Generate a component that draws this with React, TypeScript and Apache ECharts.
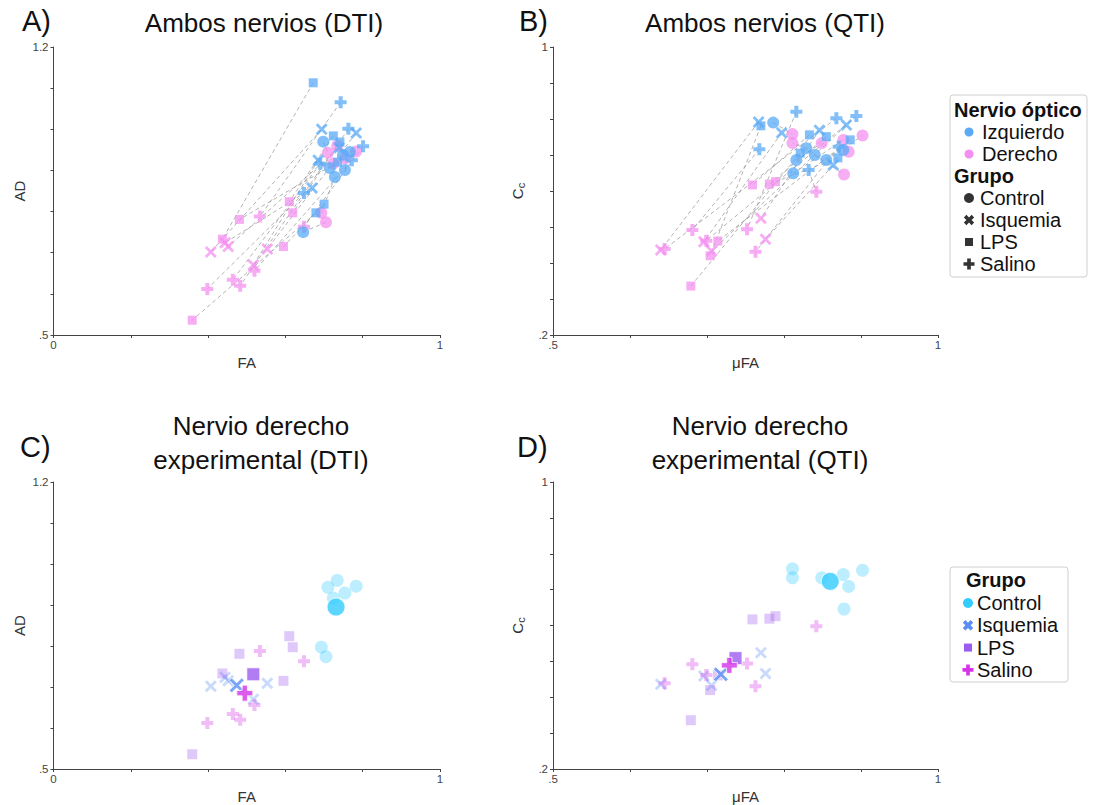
import React, { useEffect, useRef } from "react";
import * as echarts from "echarts";

const FONT = '"Liberation Sans", Arial, Helvetica, sans-serif';

const groups = ["Control", "Isquemia", "LPS", "Salino"];

// DTI (FA, AD) — left optic nerve (Izquierdo)
const dtiL_Control = [[0.698, 0.970], [0.749, 0.938], [0.728, 0.884], [0.646, 0.750], [0.767, 0.945], [0.715, 0.906], [0.754, 0.901]];
const dtiL_Isquemia = [[0.694, 1.000], [0.783, 0.991], [0.739, 0.955], [0.685, 0.925], [0.669, 0.857]];
const dtiL_LPS = [[0.672, 1.113], [0.724, 0.984], [0.735, 0.920], [0.700, 0.818], [0.679, 0.797], [0.741, 0.969]];
const dtiL_Salino = [[0.743, 1.066], [0.763, 1.001], [0.801, 0.959], [0.690, 0.916], [0.772, 0.925], [0.648, 0.845]];
// DTI — right optic nerve (Derecho)
const dtiR_Control = [[0.710, 0.943], [0.734, 0.960], [0.693, 0.797], [0.705, 0.774], [0.783, 0.946], [0.724, 0.917], [0.754, 0.929]];
const dtiR_Isquemia = [[0.407, 0.702], [0.553, 0.709], [0.452, 0.715], [0.517, 0.670], [0.444, 0.724]];
const dtiR_LPS = [[0.437, 0.733], [0.610, 0.824], [0.481, 0.781], [0.595, 0.715], [0.359, 0.536], [0.619, 0.797]];
const dtiR_Salino = [[0.534, 0.788], [0.483, 0.620], [0.648, 0.763], [0.464, 0.634], [0.520, 0.656], [0.398, 0.612]];
// DTI — right nerve group means
const dtiMean_Control = [0.731, 0.895];
const dtiMean_Isquemia = [0.474, 0.704];
const dtiMean_LPS = [0.517, 0.731];
const dtiMean_Salino = [0.495, 0.685];

// QTI (μFA, Cc) — left optic nerve
const qtiL_Control = [[0.786, 0.790], [0.829, 0.719], [0.816, 0.686], [0.812, 0.649], [0.855, 0.686], [0.877, 0.714], [0.840, 0.700]];
const qtiL_Isquemia = [[0.767, 0.792], [0.797, 0.762], [0.846, 0.769], [0.881, 0.783], [0.864, 0.672]];
const qtiL_LPS = [[0.770, 0.781], [0.833, 0.756], [0.855, 0.751], [0.821, 0.705], [0.870, 0.692], [0.886, 0.742]];
const qtiL_Salino = [[0.816, 0.820], [0.768, 0.716], [0.868, 0.802], [0.894, 0.808], [0.832, 0.658], [0.871, 0.723]];
// QTI — right optic nerve
const qtiR_Control = [[0.811, 0.758], [0.811, 0.733], [0.849, 0.733], [0.877, 0.742], [0.902, 0.754], [0.884, 0.709], [0.878, 0.646]];
const qtiR_Isquemia = [[0.640, 0.436], [0.696, 0.459], [0.770, 0.524], [0.706, 0.433], [0.776, 0.466]];
const qtiR_LPS = [[0.704, 0.420], [0.759, 0.617], [0.781, 0.619], [0.679, 0.336], [0.789, 0.626], [0.714, 0.461]];
const qtiR_Salino = [[0.752, 0.494], [0.681, 0.492], [0.645, 0.439], [0.699, 0.462], [0.842, 0.598], [0.763, 0.431]];
// QTI — right nerve group means
const qtiMean_Control = [0.860, 0.723];
const qtiMean_Isquemia = [0.718, 0.464];
const qtiMean_LPS = [0.737, 0.509];
const qtiMean_Salino = [0.729, 0.489];

const dtiL = [dtiL_Control, dtiL_Isquemia, dtiL_LPS, dtiL_Salino];
const dtiR = [dtiR_Control, dtiR_Isquemia, dtiR_LPS, dtiR_Salino];
const dtiMean = [dtiMean_Control, dtiMean_Isquemia, dtiMean_LPS, dtiMean_Salino];
const qtiL = [qtiL_Control, qtiL_Isquemia, qtiL_LPS, qtiL_Salino];
const qtiR = [qtiR_Control, qtiR_Isquemia, qtiR_LPS, qtiR_Salino];
const qtiMean = [qtiMean_Control, qtiMean_Isquemia, qtiMean_LPS, qtiMean_Salino];

const BLUE = "#5aaaf5";
const PINK = "#f48ef0";
const GROUP_COLORS = ["#33ccff", "#5b8ef5", "#9d5cf0", "#d633e8"];

const PLUS = "path://M-1,-3L1,-3L1,-1L3,-1L3,1L1,1L1,3L-1,3L-1,1L-3,1L-3,-1L-1,-1Z";
const CROSS = "path://M-3,-2L-2,-3L0,-1L2,-3L3,-2L1,0L3,2L2,3L0,1L-2,3L-3,2L-1,0Z";
const SYMBOLS = ["circle", CROSS, "rect", PLUS];
const SIZE_A = [12, 12, 9, 12];
const SIZE_PALE = [13, 12, 10, 12];
const SIZE_MEAN = [18, 15, 13, 16];

function fmt(v: number) {
  const s = String(+v.toFixed(2));
  return s.startsWith("0.") ? s.slice(1) : s;
}

function makeAxis(kind: "x" | "y", gridIndex: number, min: number, max: number, interval: number, name: string, rich?: any) {
  const ax: any = {
    type: "value",
    gridIndex,
    min,
    max,
    interval,
    name,
    nameLocation: "middle",
    nameGap: kind === "x" ? 20 : 27,
    nameTextStyle: { fontSize: 15, color: "#333", fontFamily: FONT, rich },
    axisLine: { show: true, onZero: false, lineStyle: { color: "#444", width: 1 } },
    axisTick: { show: true, length: 3, lineStyle: { color: "#444" } },
    splitLine: { show: false },
    axisLabel: {
      fontSize: 11.5,
      color: "#444",
      fontFamily: FONT,
      margin: kind === "x" ? 4 : 5,
      showMinLabel: true,
      showMaxLabel: true,
      formatter: (v: number) =>
        Math.abs(v - min) < 1e-6 || Math.abs(v - max) < 1e-6 ? fmt(v) : "",
    },
  };
  return ax;
}

function plusPts(cx: number, cy: number, s: number, rot: number) {
  const a = s / 2, b = s / 6;
  const base = [[-b, -a], [b, -a], [b, -b], [a, -b], [a, b], [b, b], [b, a], [-b, a], [-b, b], [-a, b], [-a, -b], [-b, -b]];
  const c = Math.cos(rot), sn = Math.sin(rot);
  return base.map(([x, y]) => [cx + x * c - y * sn, cy + x * sn + y * c]);
}

function legendMarker(g: number, cx: number, cy: number, color: string) {
  if (g === 0) return { type: "circle", shape: { cx, cy, r: 5 }, style: { fill: color } };
  if (g === 1) return { type: "polygon", shape: { points: plusPts(cx, cy, 11, Math.PI / 4) }, style: { fill: color } };
  if (g === 2) return { type: "rect", shape: { x: cx - 4, y: cy - 4, width: 8, height: 8 }, style: { fill: color } };
  return { type: "polygon", shape: { points: plusPts(cx, cy, 11, 0) }, style: { fill: color } };
}

function txt(x: number, y: number, text: string, size: number, opts: any = {}) {
  return {
    type: "text",
    x,
    y,
    style: {
      text,
      fontSize: size,
      fontFamily: FONT,
      fontWeight: opts.bold ? "bold" : "normal",
      fill: opts.fill || "#111",
      align: opts.align || "left",
      verticalAlign: "middle",
      lineHeight: opts.lineHeight,
    },
  };
}

export default function App() {
  const ref = useRef<HTMLDivElement>(null);
  useEffect(() => {
    document.body.style.margin = "0";
    const chart = echarts.init(ref.current!, null, { renderer: "svg" });

    const series: any[] = [];
    // Panels A & B: paired points with dashed connectors
    const paired = (L: number[][][], R: number[][][], idx: number) => {
      for (let g = 0; g < 4; g++) {
        series.push({
          type: "scatter", xAxisIndex: idx, yAxisIndex: idx, silent: true,
          symbol: SYMBOLS[g], symbolSize: SIZE_A[g], data: R[g],
          itemStyle: { color: PINK, opacity: 0.72 },
        });
      }
      for (let g = 0; g < 4; g++) {
        series.push({
          type: "scatter", xAxisIndex: idx, yAxisIndex: idx, silent: true,
          symbol: SYMBOLS[g], symbolSize: SIZE_A[g], data: L[g],
          itemStyle: { color: BLUE, opacity: 0.75 },
        });
      }
      const lines: any[] = [];
      for (let g = 0; g < 4; g++) {
        L[g].forEach((p, i) => lines.push({ coords: [p, R[g][i]] }));
      }
      series.push({
        type: "lines", coordinateSystem: "cartesian2d", xAxisIndex: idx, yAxisIndex: idx,
        silent: true, data: lines,
        lineStyle: { color: "#888", width: 0.8, type: [4, 3], opacity: 0.8 },
      });
    };
    paired(dtiL, dtiR, 0);
    paired(qtiL, qtiR, 1);

    // Panels C & D: right nerve by group, with group means
    const grouped = (R: number[][][], M: number[][], idx: number) => {
      for (let g = 0; g < 4; g++) {
        series.push({
          type: "scatter", xAxisIndex: idx, yAxisIndex: idx, silent: true,
          symbol: SYMBOLS[g], symbolSize: SIZE_PALE[g], data: R[g],
          itemStyle: { color: GROUP_COLORS[g], opacity: 0.33 },
        });
      }
      for (let g = 0; g < 4; g++) {
        series.push({
          type: "scatter", xAxisIndex: idx, yAxisIndex: idx, silent: true, z: 3,
          symbol: SYMBOLS[g], symbolSize: SIZE_MEAN[g], data: [M[g]],
          itemStyle: { color: GROUP_COLORS[g], borderColor: "#fff", borderWidth: 1 },
        });
      }
    };
    grouped(dtiR, dtiMean, 2);
    grouped(qtiR, qtiMean, 3);

    const ccRich = {
      m: { fontSize: 15, color: "#333", fontFamily: FONT },
      s: { fontSize: 11, color: "#333", fontFamily: FONT, padding: [6, 0, 0, 0] },
    };

    const LF = 20;
    const graphic: any[] = [
      txt(22, 21, "A)", 29),
      txt(519, 21, "B)", 29),
      txt(20, 447, "C)", 29),
      txt(517, 447, "D)", 29),
      txt(264, 23, "Ambos nervios (DTI)", 26, { align: "center" }),
      txt(765, 23, "Ambos nervios (QTI)", 26, { align: "center" }),
      txt(261, 443, "Nervio derecho\nexperimental (DTI)", 26, { align: "center", lineHeight: 34 }),
      txt(760, 443, "Nervio derecho\nexperimental (QTI)", 26, { align: "center", lineHeight: 34 }),
      // Legend 1
      { type: "rect", shape: { x: 950, y: 95, width: 137, height: 182, r: 3 }, style: { fill: "#fff", stroke: "#cfcfcf", lineWidth: 1 } },
      txt(954, 110, "Nervio óptico", LF, { bold: true }),
      { type: "circle", shape: { cx: 969, cy: 132, r: 4.5 }, style: { fill: BLUE } },
      txt(982, 132, "Izquierdo", LF),
      { type: "circle", shape: { cx: 969, cy: 154, r: 4.5 }, style: { fill: PINK } },
      txt(982, 154, "Derecho", LF),
      txt(954, 176, "Grupo", LF, { bold: true }),
      // Legend 2
      { type: "rect", shape: { x: 950, y: 567, width: 118, height: 115, r: 3 }, style: { fill: "#fff", stroke: "#cfcfcf", lineWidth: 1 } },
      txt(966, 580, "Grupo", LF, { bold: true }),
    ];
    groups.forEach((name, g) => {
      const y1 = 198 + g * 22;
      graphic.push(legendMarker(g, 969, y1, "#333"));
      graphic.push(txt(980, y1, name, LF));
      const y2 = 603 + g * 22.3;
      graphic.push(legendMarker(g, 968, y2, GROUP_COLORS[g]));
      graphic.push(txt(977, y2, name, LF));
    });

    chart.setOption({
      animation: false,
      textStyle: { fontFamily: FONT },
      grid: [
        { left: 53.5, top: 47, width: 386.5, height: 288 },
        { left: 553, top: 47, width: 385, height: 288 },
        { left: 53.5, top: 482, width: 386.5, height: 288 },
        { left: 553, top: 482, width: 385, height: 288 },
      ],
      xAxis: [
        makeAxis("x", 0, 0, 1, 0.2, "FA"),
        makeAxis("x", 1, 0.5, 1, 0.1, "μFA"),
        makeAxis("x", 2, 0, 1, 0.2, "FA"),
        makeAxis("x", 3, 0.5, 1, 0.1, "μFA"),
      ],
      yAxis: [
        makeAxis("y", 0, 0.5, 1.2, 0.1, "AD"),
        makeAxis("y", 1, 0.2, 1, 0.1, "{m|C}{s|c}", ccRich),
        makeAxis("y", 2, 0.5, 1.2, 0.1, "AD"),
        makeAxis("y", 3, 0.2, 1, 0.1, "{m|C}{s|c}", ccRich),
      ],
      series,
      graphic,
    });
    return () => chart.dispose();
  }, []);
  return <div ref={ref} style={{ width: 1096, height: 805 }} />;
}
